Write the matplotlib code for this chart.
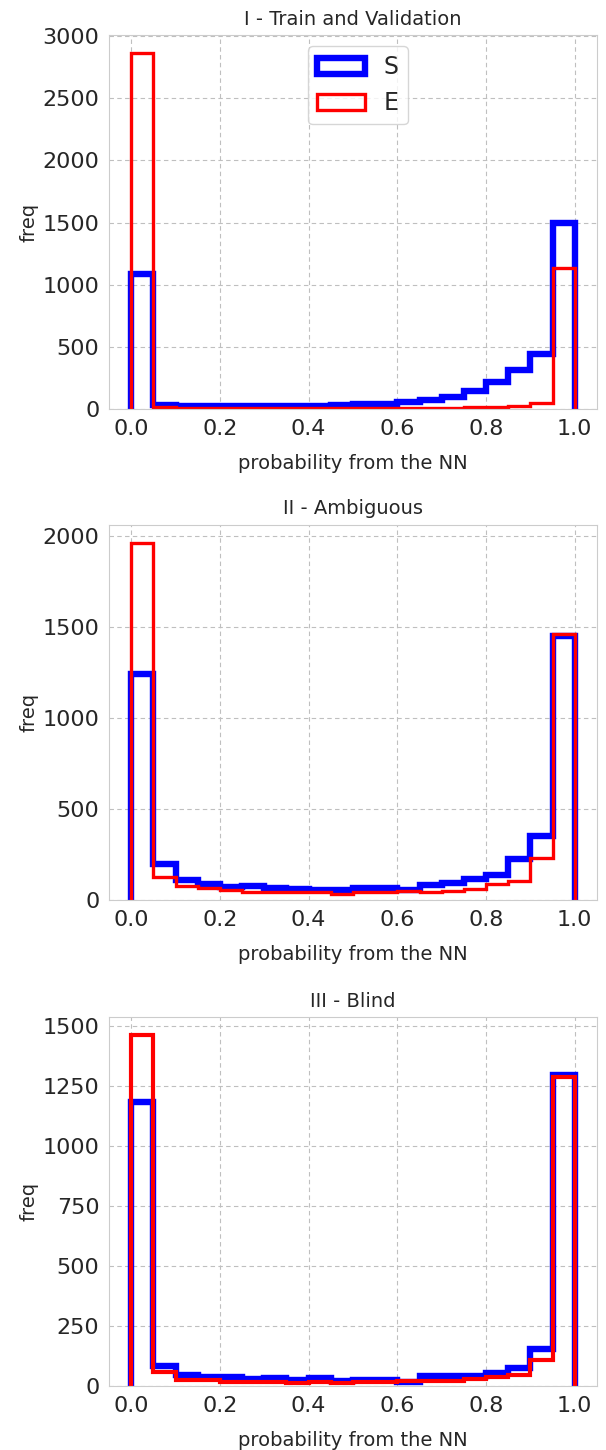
import numpy as np
import matplotlib
matplotlib.use("Agg")
import matplotlib.pyplot as plt
import seaborn as sns

edges = np.linspace(0, 1, 21)
titles = ["I - Train and Validation", "II - Ambiguous", "III - Blind"]

s_train = [1085, 50, 32, 28, 25, 22, 22, 28, 28, 24, 30, 38, 42, 55, 75, 100, 145, 215, 310, 445, 1495]
e_train = [2865, 15, 10, 8, 7, 7, 8, 8, 6, 8, 8, 10, 10, 12, 12, 15, 18, 22, 50, 1135]
s_train = s_train[:1] + s_train[2:]  # 20 bins

s_amb = [1242, 199, 113, 92, 76, 78, 70, 63, 56, 58, 67, 67, 60, 83, 96, 120, 140, 228, 356, 1450]
e_amb = [1964, 127, 80, 69, 58, 45, 45, 45, 44, 36, 44, 49, 53, 44, 51, 62, 88, 107, 235, 1465]

s_blind = [1183, 85, 47, 39, 36, 29, 33, 25, 35, 22, 26, 26, 18, 40, 42, 42, 53, 75, 154, 1295]
e_blind = [1465, 60, 25, 25, 15, 18, 15, 11, 17, 11, 15, 15, 19, 20, 23, 30, 36, 46, 108, 1290]

yticks = [np.arange(0, 3001, 500), np.arange(0, 2001, 500), np.arange(0, 1501, 250)]

series = [(s_train, e_train), (s_amb, e_amb), (s_blind, e_blind)]
red_lw = [2.4, 2.4, 3.0]

sns.set_style("whitegrid", {"grid.linestyle": (0, (4, 3)), "grid.color": "0.75"})
plt.rcParams["font.family"] = ["DejaVu Sans"]

fig = plt.figure(figsize=(6.06, 14.5), dpi=100)
positions = [
    [0.18, 0.7179, 0.805, 0.258],
    [0.18, 0.379, 0.805, 0.259],
    [0.18, 0.0441, 0.805, 0.2545],
]
centers = (edges[:-1] + edges[1:]) / 2
for i, (pos, (s, e)) in enumerate(zip(positions, series)):
    ax = fig.add_axes(pos)
    ax.hist(centers, bins=edges, weights=s, histtype="step", color="blue", lw=4.6, label="S")
    ax.hist(centers, bins=edges, weights=e, histtype="step", color="red", lw=red_lw[i], label="E")
    ax.set_xlim(-0.05, 1.05)
    ax.set_xticks([0.0, 0.2, 0.4, 0.6, 0.8, 1.0])
    ax.set_yticks(yticks[i])
    ax.tick_params(axis="both", labelsize=16)
    ax.set_title(titles[i], fontsize=14, pad=7.5)
    ax.set_xlabel("probability from the NN", fontsize=14, labelpad=11)
    ax.set_ylabel("freq", fontsize=14, labelpad=3)
    if i == 0:
        ax.legend(loc="upper center", fontsize=17, bbox_to_anchor=(0.51, 0.971),
                  borderaxespad=0)

fig.savefig("out.png", dpi=100)
